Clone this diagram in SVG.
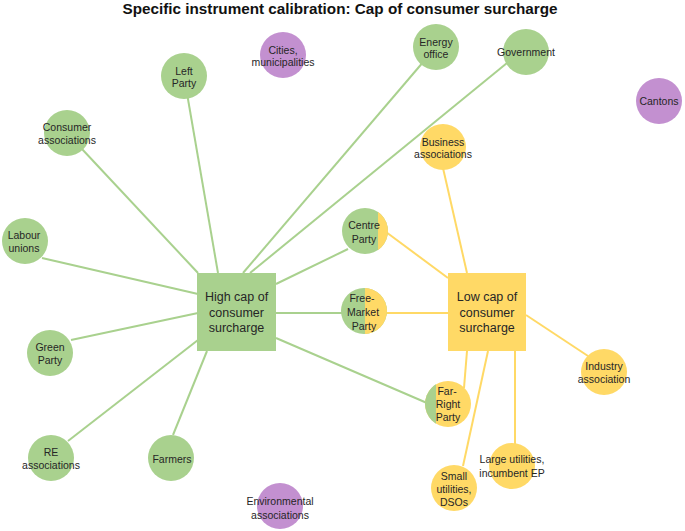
<svg xmlns="http://www.w3.org/2000/svg" width="685" height="531" viewBox="0 0 685 531">
<style>
.t{font-family:"Liberation Sans",Arial,sans-serif;font-size:10.5px;fill:#262626;text-anchor:middle}
.b{font-family:"Liberation Sans",Arial,sans-serif;font-size:12.5px;fill:#262626;text-anchor:middle}
.g{fill:#a9d18e}
.y{fill:#ffd966}
.p{fill:#c390d0}
.eg{stroke:#a9d18e;stroke-width:2;fill:none}
.ey{stroke:#ffd966;stroke-width:2;fill:none}
</style>
<defs>
<clipPath id="cCentre"><rect x="378" y="200" width="20" height="70"/></clipPath>
<clipPath id="cFree"><rect x="365" y="280" width="30" height="70"/></clipPath>
<clipPath id="cFar"><rect x="420" y="375" width="16" height="60"/></clipPath>
</defs>
<rect width="685" height="531" fill="#fff"/>
<text x="340" y="14" font-family="Liberation Sans,Arial,sans-serif" font-weight="bold" font-size="15.5" fill="#111" text-anchor="middle" textLength="435" lengthAdjust="spacingAndGlyphs">Specific instrument calibration: Cap of consumer surcharge</text>
<g id="connectors">
<line class="eg" x1="67" y1="133" x2="198" y2="273"/>
<line class="eg" x1="184" y1="76" x2="218" y2="273"/>
<line class="eg" x1="436" y1="47" x2="243" y2="273"/>
<line class="eg" x1="507" y1="63" x2="250" y2="273"/>
<line class="eg" x1="42" y1="258" x2="198" y2="294"/>
<line class="eg" x1="71" y1="340" x2="198" y2="313"/>
<line class="eg" x1="68" y1="441" x2="198" y2="340"/>
<line class="eg" x1="173" y1="435" x2="207" y2="351"/>
<line class="eg" x1="276" y1="284" x2="348" y2="249"/>
<line class="eg" x1="276" y1="313" x2="342" y2="313"/>
<line class="eg" x1="276" y1="338" x2="427" y2="403"/>
<line class="ey" x1="443" y1="168" x2="467" y2="273"/>
<line class="ey" x1="386" y1="232" x2="448" y2="278"/>
<line class="ey" x1="386" y1="313" x2="448" y2="313"/>
<line class="ey" x1="526" y1="315" x2="588" y2="356"/>
<line class="ey" x1="467" y1="351" x2="464" y2="388"/>
<line class="ey" x1="488" y1="351" x2="463" y2="466"/>
<line class="ey" x1="515" y1="351" x2="515" y2="444"/>
</g>
<g id="high-cap"><rect class="g" x="197" y="273" width="79" height="78"/>
<text class="b" x="236.5" y="301">High cap of</text><text class="b" x="236.5" y="317">consumer</text><text class="b" x="236.5" y="332">surcharge</text></g>
<g id="low-cap"><rect class="y" x="448" y="273" width="78" height="78"/>
<text class="b" x="487" y="301">Low cap of</text><text class="b" x="487" y="317">consumer</text><text class="b" x="487" y="332">surcharge</text></g>
<g id="cities"><circle class="p" cx="283" cy="55" r="23"/><text class="t" x="283" y="53.5">Cities,</text><text class="t" x="283" y="65.5">municipalities</text></g>
<g id="energy-office"><circle class="g" cx="436" cy="47" r="23"/><text class="t" x="436" y="46">Energy</text><text class="t" x="436" y="58">office</text></g>
<g id="government"><circle class="g" cx="526" cy="52" r="23"/><text class="t" x="526" y="56">Government</text></g>
<g id="left-party"><circle class="g" cx="184" cy="76" r="23"/><text class="t" x="184" y="74.5">Left</text><text class="t" x="184" y="87">Party</text></g>
<g id="consumer-associations"><circle class="g" cx="67" cy="133" r="23"/><text class="t" x="67" y="130.5">Consumer</text><text class="t" x="67" y="143.5">associations</text></g>
<g id="cantons"><circle class="p" cx="659" cy="101" r="23"/><text class="t" x="659" y="105">Cantons</text></g>
<g id="business-associations"><circle class="y" cx="443" cy="147" r="23"/><text class="t" x="443" y="145.5">Business</text><text class="t" x="443" y="158">associations</text></g>
<g id="labour-unions"><circle class="g" cx="25" cy="241" r="23"/><text class="t" x="24" y="238.5">Labour</text><text class="t" x="24" y="251.5">unions</text></g>
<g id="green-party"><circle class="g" cx="50" cy="353" r="23"/><text class="t" x="50" y="350.5">Green</text><text class="t" x="50" y="363.5">Party</text></g>
<g id="re-associations"><circle class="g" cx="51" cy="458" r="23"/><text class="t" x="51" y="455.5">RE</text><text class="t" x="51" y="468.5">associations</text></g>
<g id="farmers"><circle class="g" cx="171" cy="458" r="23"/><text class="t" x="172" y="462.5">Farmers</text></g>
<g id="environmental-associations"><circle class="p" cx="280" cy="506" r="23"/><text class="t" x="280" y="504.5">Environmental</text><text class="t" x="280" y="518.5">associations</text></g>
<g id="centre-party"><circle class="g" cx="365" cy="231" r="23"/><circle class="y" cx="365" cy="231" r="23" clip-path="url(#cCentre)"/><text class="t" x="364" y="228.5">Centre</text><text class="t" x="364" y="242.5">Party</text></g>
<g id="free-market-party"><circle class="g" cx="364" cy="311" r="23"/><circle class="y" cx="364" cy="311" r="23" clip-path="url(#cFree)"/><text class="t" x="362" y="302">Free-</text><text class="t" x="363" y="316">Market</text><text class="t" x="364" y="330">Party</text></g>
<g id="far-right-party"><circle class="y" cx="448" cy="404" r="23"/><circle class="g" cx="448" cy="404" r="23" clip-path="url(#cFar)"/><text class="t" x="447" y="394.5">Far-</text><text class="t" x="448" y="407.5">Right</text><text class="t" x="448" y="420.5">Party</text></g>
<g id="industry-association"><circle class="y" cx="604" cy="372" r="23"/><text class="t" x="604" y="369.5">Industry</text><text class="t" x="604" y="382.5">association</text></g>
<g id="large-utilities"><circle class="y" cx="512" cy="466" r="23"/><text class="t" x="512" y="462.5">Large utilities,</text><text class="t" x="512" y="476.5">incumbent EP</text></g>
<g id="small-utilities"><circle class="y" cx="454" cy="488" r="23"/><text class="t" x="454" y="479.5">Small</text><text class="t" x="454" y="492.5">utilities,</text><text class="t" x="454" y="505.5">DSOs</text></g>
</svg>
